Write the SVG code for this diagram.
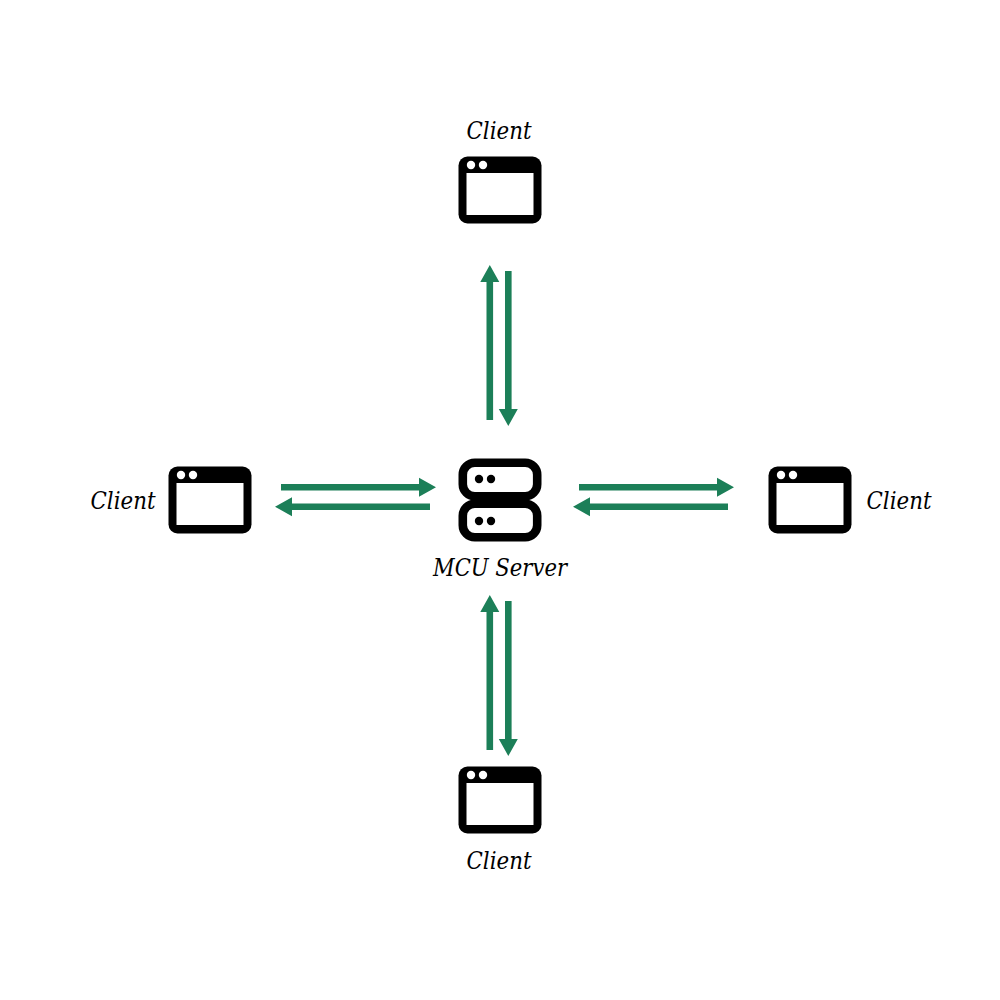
<svg xmlns="http://www.w3.org/2000/svg" width="1000" height="1000" viewBox="0 0 1000 1000">
<style>
.lbl{font-family:"DejaVu Serif","Liberation Serif",serif;font-style:italic;font-size:24px;fill:#000}
.win{fill:#000}
.pane,.dot{fill:#fff}
.srv{fill:#fff;stroke:#000;stroke-width:8.6}
.sd{fill:#000}
.a{fill:#1c7f58}
</style>
<defs>
<g id="client">
<rect class="win" x="-41.5" y="-33.5" width="83" height="67" rx="9"/>
<rect class="pane" x="-33.5" y="-17" width="67" height="42"/>
<circle class="dot" cx="-29" cy="-25" r="4.2"/>
<circle class="dot" cx="-17" cy="-25" r="4.2"/>
</g>
<path id="arrow" d="M0-3.3H138V-9.5L155 0 138 9.5V3.3H0Z"/>
</defs>
<rect width="1000" height="1000" fill="#fff"/>
<g id="connectors" class="a">
<use href="#arrow" transform="translate(281 487.3)"/>
<use href="#arrow" transform="translate(430 506.7) rotate(180)"/>
<use href="#arrow" transform="translate(579 487.3)"/>
<use href="#arrow" transform="translate(728 506.7) rotate(180)"/>
<use href="#arrow" transform="translate(489.8 420) rotate(-90)"/>
<use href="#arrow" transform="translate(508.3 271) rotate(90)"/>
<use href="#arrow" transform="translate(489.8 750) rotate(-90)"/>
<use href="#arrow" transform="translate(508.3 601) rotate(90)"/>
</g>
<g id="server">
<rect class="srv" x="462.8" y="462.8" width="74.4" height="33.4" rx="12"/>
<rect class="srv" x="462.8" y="503.8" width="74.4" height="33.4" rx="12"/>
<circle class="sd" cx="479" cy="479" r="4.2"/>
<circle class="sd" cx="491" cy="479" r="4.2"/>
<circle class="sd" cx="479" cy="521" r="4.2"/>
<circle class="sd" cx="491" cy="521" r="4.2"/>
<text class="lbl" x="500" y="575.5" text-anchor="middle" textLength="134" lengthAdjust="spacingAndGlyphs">MCU Server</text>
</g>
<g id="client-top">
<use href="#client" x="500" y="190"/>
<text class="lbl" x="499" y="138.5" text-anchor="middle" textLength="65" lengthAdjust="spacingAndGlyphs">Client</text>
</g>
<g id="client-left">
<use href="#client" x="210" y="500"/>
<text class="lbl" x="123" y="508.5" text-anchor="middle" textLength="65" lengthAdjust="spacingAndGlyphs">Client</text>
</g>
<g id="client-right">
<use href="#client" x="810" y="500"/>
<text class="lbl" x="899" y="508.5" text-anchor="middle" textLength="65" lengthAdjust="spacingAndGlyphs">Client</text>
</g>
<g id="client-bottom">
<use href="#client" x="500" y="800"/>
<text class="lbl" x="499" y="868.5" text-anchor="middle" textLength="65" lengthAdjust="spacingAndGlyphs">Client</text>
</g>
</svg>
